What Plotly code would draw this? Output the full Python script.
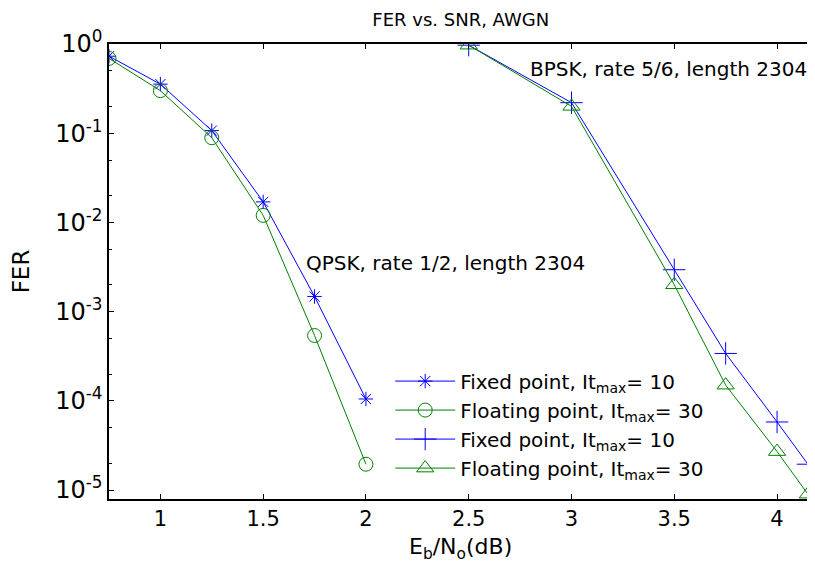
import plotly.graph_objects as go

# QPSK, rate 1/2
snr_qpsk = [0.75, 1.0, 1.25, 1.5, 1.75, 2.0]
fer_qpsk_fixed = [0.73, 0.355, 0.107, 0.017, 1.48e-3, 1.05e-4]
fer_qpsk_float = [0.69, 0.30, 0.089, 0.012, 5.4e-4, 1.95e-5]

# BPSK, rate 5/6
snr_bpsk = [2.5, 3.0, 3.5, 3.75, 4.0, 4.15]
fer_bpsk_fixed = [0.97, 0.22, 2.95e-3, 3.4e-4, 5.8e-5, 1.95e-5]
fer_bpsk_float = [0.97, 0.20, 2.0e-3, 1.5e-4, 2.7e-5, 9.0e-6]

names = ["Fixed point, It<sub>max</sub>= 10", "Floating point, It<sub>max</sub>= 30",
         "Fixed point, It<sub>max</sub>= 10", "Floating point, It<sub>max</sub>= 30"]

x_ticks = [1, 1.5, 2, 2.5, 3, 3.5, 4]
x_ticktext = ["1", "1.5", "2", "2.5", "3", "3.5", "4"]
y_ticks = [1, 1e-1, 1e-2, 1e-3, 1e-4, 1e-5]
y_ticktext = ["10<sup>0</sup>", "10<sup>-1</sup>", "10<sup>-2</sup>", "10<sup>-3</sup>",
              "10<sup>-4</sup>", "10<sup>-5</sup>"]

BLUE = "#0000FF"
GREEN = "#008000"
FONT = "DejaVu Sans"

fig = go.Figure()
fig.add_trace(go.Scatter(x=snr_qpsk, y=fer_qpsk_fixed, mode="lines+markers", name=names[0],
                         line=dict(color=BLUE, width=1),
                         marker=dict(symbol="asterisk-open", size=12, color=BLUE,
                                     line=dict(color=BLUE, width=1))))
fig.add_trace(go.Scatter(x=snr_qpsk, y=fer_qpsk_float, mode="lines+markers", name=names[1],
                         line=dict(color=GREEN, width=1),
                         marker=dict(symbol="circle-open", size=14, color=GREEN,
                                     line=dict(color=GREEN, width=1))))
fig.add_trace(go.Scatter(x=snr_bpsk, y=fer_bpsk_fixed, mode="lines+markers", name=names[2],
                         line=dict(color=BLUE, width=1),
                         marker=dict(symbol="cross-thin-open", size=16, color=BLUE,
                                     line=dict(color=BLUE, width=1))))
fig.add_trace(go.Scatter(x=snr_bpsk, y=fer_bpsk_float, mode="lines+markers", name=names[3],
                         line=dict(color=GREEN, width=1),
                         marker=dict(symbol="triangle-up-open", size=15, color=GREEN,
                                     line=dict(color=GREEN, width=1))))

fig.add_annotation(x=1.70, y=-2.46, xref="x", yref="y", text="QPSK, rate 1/2, length 2304",
                   showarrow=False, xanchor="left", yanchor="middle",
                   font=dict(family=FONT, size=20, color="black"))
fig.add_annotation(x=2.79, y=-0.28, xref="x", yref="y", text="BPSK, rate 5/6, length 2304",
                   showarrow=False, xanchor="left", yanchor="middle",
                   font=dict(family=FONT, size=20, color="black"))
# x-axis title placed close under the tick labels
fig.add_annotation(x=0.5, y=-0.108, xref="paper", yref="paper",
                   text="E<sub>b</sub>/N<sub>o</sub>(dB)", showarrow=False,
                   xanchor="center", yanchor="middle",
                   font=dict(family=FONT, size=22, color="black"))

# page body has an 8px margin: figure is sized/offset to compensate
fig.update_layout(
    width=807, height=561,
    margin=dict(l=101, r=3, t=36, b=70),
    paper_bgcolor="white", plot_bgcolor="white",
    font=dict(family=FONT, size=20, color="black"),
    title=dict(text="FER vs. SNR, AWGN", x=0.561, xanchor="center", y=0.980, yanchor="middle",
               font=dict(family=FONT, size=18, color="black")),
    showlegend=True,
    legend=dict(x=0.40, y=0.302, xanchor="left", yanchor="top", bgcolor="rgba(0,0,0,0)",
                borderwidth=0, font=dict(family=FONT, size=20, color="black"),
                itemwidth=60, tracegroupgap=0),
)
fig.update_xaxes(range=[0.75, 4.17], tickvals=x_ticks, ticktext=x_ticktext, automargin=False,
                 ticks="inside", ticklen=5, tickcolor="black", showgrid=False, zeroline=False,
                 showline=True, linecolor="black", linewidth=1.5, mirror="ticks",
                 tickfont=dict(family=FONT, size=21))
fig.update_yaxes(type="log", range=[-5.1, 0], tickvals=y_ticks, ticktext=y_ticktext, automargin=False,
                 ticks="inside", ticklen=5, tickcolor="black", showgrid=False, zeroline=False,
                 showline=True, linecolor="black", linewidth=1.5, mirror="ticks",
                 tickfont=dict(family=FONT, size=24),
                 minor=dict(ticks="inside", ticklen=3, tickcolor="black", showgrid=False),
                 title=dict(text="FER", font=dict(family=FONT, size=23), standoff=19))

fig.write_html("out.html")
